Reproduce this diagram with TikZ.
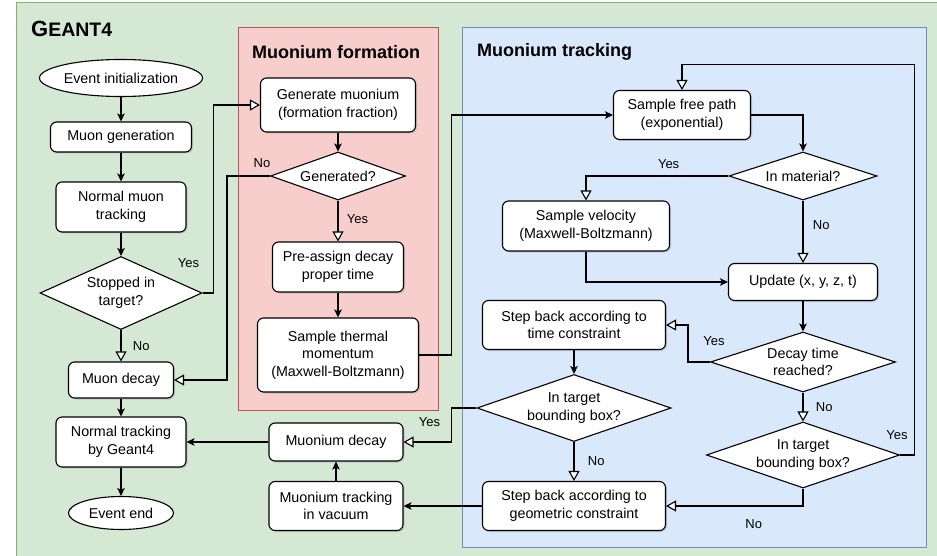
\documentclass[tikz,border=0pt]{standalone}
\usepackage{fontspec}
\setmainfont{Liberation Sans}
\usepackage{tikz}
\usetikzlibrary{arrows.meta,calc,positioning,shapes.geometric,shadows}
\definecolor{geantfill}{HTML}{D5E8D4}
\definecolor{geantline}{HTML}{82B366}
\definecolor{formfill}{HTML}{F8CECC}
\definecolor{formline}{HTML}{B85450}
\definecolor{trackfill}{HTML}{DAE8FC}
\definecolor{trackline}{HTML}{6C8EBF}
\tikzset{
  stepbox/.style={draw=black,line width=1.1pt,rounded corners=6pt,fill=white,
    align=center,inner sep=2pt,
    drop shadow={shadow xshift=1.5pt,shadow yshift=-1.5pt,opacity=0.3}},
  terminal/.style={ellipse,draw=black,line width=1.1pt,fill=white,inner sep=0pt},
  decision/.style={diamond,draw=black,line width=1.1pt,fill=white,
    align=center,inner sep=0pt,aspect=3},
  flow/.style={-{Stealth[length=8pt,width=7.5pt,inset=2pt]},line width=1.1pt},
  branch/.style={-{Triangle[length=10pt,width=11pt,fill=white]},line width=1.1pt},
  lbl/.style={font=\fontsize{13}{15}\selectfont},
  grouptitle/.style={font=\fontsize{18}{20}\selectfont\bfseries,anchor=west,inner sep=0pt}
}

\begin{document}
\begin{tikzpicture}[x=1pt,y=-1pt,font=\fontsize{14.3}{17.5}\selectfont]
  \useasboundingbox (0,0) rectangle (937,556);
  \clip (0,0) rectangle (937,556);
  % groups
  \draw[geantline,fill=geantfill,line width=1pt] (16,3) rectangle (950,570);
  \node[anchor=west,font=\bfseries,inner sep=0pt] (geant) at (31,29)
    {{\fontsize{22}{24}\selectfont G}{\fontsize{19.5}{24}\selectfont EANT4}};
  \draw[formline,fill=formfill,line width=1pt] (238,28) rectangle (438,410);
  \node[grouptitle] (formtitle) at (252,52) {Muonium formation};
  \draw[trackline,fill=trackfill,line width=1pt] (462,28) rectangle (926,547);
  \node[grouptitle] (tracktitle) at (477,52) {Muonium tracking};

  % Geant4 column
  \node[terminal,minimum width=163,minimum height=37] (init) at (121,78) {Event initialization};
  \node[stepbox,minimum width=141,minimum height=30] (muongen) at (121,137) {Muon generation};
  \node[stepbox,minimum width=130,minimum height=50] (muontrack) at (121,207) {Normal muon\\tracking};
  \node[decision,minimum width=162,minimum height=73] (stopped) at (121,293) {Stopped in\\target?};
  \node[stepbox,minimum width=105,minimum height=36] (muondecay) at (121,380) {Muon decay};
  \node[stepbox,minimum width=130,minimum height=50] (normaltrack) at (121,442) {Normal tracking\\by Geant4};
  \node[terminal,minimum width=105,minimum height=33] (eventend) at (121,513) {Event end};
  \node[stepbox,minimum width=134,minimum height=38] (mudecay) at (336,442) {Muonium decay};
  \node[stepbox,minimum width=134,minimum height=49] (vacuum) at (336,506) {Muonium tracking\\in vacuum};

  % formation
  \node[stepbox,minimum width=155,minimum height=54] (genmuonium) at (338,105) {Generate muonium\\(formation fraction)};
  \node[decision,minimum width=135,minimum height=48] (generated) at (338,176) {Generated?};
  \node[stepbox,minimum width=131,minimum height=50] (preassign) at (338,267) {Pre-assign decay\\proper time};
  \node[stepbox,minimum width=161,minimum height=74] (thermal) at (338,355) {Sample thermal\\momentum\\(Maxwell-Boltzmann)};

  % tracking
  \node[stepbox,minimum width=137,minimum height=49] (freepath) at (682,115) {Sample free path\\(exponential)};
  \node[decision,minimum width=148,minimum height=48] (inmaterial) at (803,176) {In material?};
  \node[stepbox,minimum width=167,minimum height=50] (velocity) at (586,226) {Sample velocity\\(Maxwell-Boltzmann)};
  \node[stepbox,minimum width=149,minimum height=37] (update) at (803,282) {Update (x, y, z, t)};
  \node[stepbox,minimum width=183,minimum height=49] (backtime) at (574,325) {Step back according to\\time constraint};
  \node[decision,minimum width=185,minimum height=60] (decaytime) at (803,362) {Decay time\\reached?};
  \node[decision,minimum width=194,minimum height=67] (bboxleft) at (574,408) {In target\\bounding box?};
  \node[decision,minimum width=193,minimum height=66] (bboxright) at (803,455) {In target\\bounding box?};
  \node[stepbox,minimum width=183,minimum height=49] (backgeom) at (574,506) {Step back according to\\geometric constraint};

  % connectors
  \draw[flow] (init) -- (muongen);
  \draw[flow] (muongen) -- (muontrack);
  \draw[flow] (muontrack) -- (stopped);
  \draw[branch] (stopped) -- node[lbl,right=8pt]{No} (muondecay);
  \draw[branch] (stopped.east) -- ++(11,0) |- (genmuonium.west);
  \node[lbl] at ([shift={(-14,-30)}]stopped.east) {Yes};
  \draw[flow] (muondecay) -- (normaltrack);
  \draw[flow] (normaltrack) -- (eventend);
  \draw[flow] (genmuonium) -- (generated);
  \draw[branch] (generated.west) -- ++(-43,0) |- (muondecay.east);
  \node[lbl] at ([shift={(-8,-13)}]generated.west) {No};
  \draw[branch] (generated) -- node[lbl,right=5pt,pos=0.45]{Yes} (preassign);
  \draw[flow] (preassign) -- (thermal);
  \draw[flow] (thermal.east) -- ++(32,0) |- (freepath.west);
  \draw[flow] (freepath.east) -| (inmaterial.north);
  \draw[branch] (inmaterial.west) -| node[lbl,above=3pt,pos=0.21]{Yes} (velocity.north);
  \draw[branch] (inmaterial) -- node[lbl,right=6pt,pos=0.4]{No} (update);
  \draw[flow] (velocity.south) |- (update.west);
  \draw[flow] (update) -- (decaytime);
  \draw[branch] (decaytime.west) -- ++(-22,0) |- (backtime.east);
  \node[lbl] at ([shift={(4,-21)}]decaytime.west) {Yes};
  \draw[branch] (decaytime) -- node[lbl,right=9pt]{No} (bboxright);
  \draw[flow] (backtime) -- (bboxleft);
  \draw[branch] (bboxleft) -- node[lbl,right=10pt]{No} (backgeom);
  \draw[branch] (bboxleft.west) -- ++(-25,0) |- (mudecay.east);
  \node[lbl] at ([shift={(-47,14)}]bboxleft.west) {Yes};
  \draw[branch] (bboxright.east) -- ++(14,0) |- ($(freepath.north)+(0,-25)$) -- (freepath.north);
  \node[lbl] at ([shift={(-3,-20)}]bboxright.east) {Yes};
  \draw[branch] (bboxright.south) |- node[lbl,below=10pt,pos=0.68]{No} (backgeom.east);
  \draw[flow] (backgeom) -- (vacuum);
  \draw[flow] (vacuum) -- (mudecay);
  \draw[flow] (mudecay) -- (normaltrack);
\end{tikzpicture}
\end{document}
